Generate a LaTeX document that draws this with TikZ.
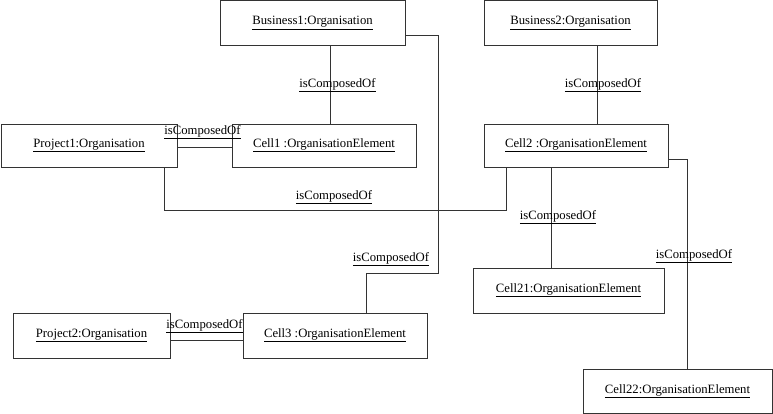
\documentclass[tikz,border=0pt]{standalone}
\usepackage{fontspec}
\setmainfont{Liberation Serif}
\begin{document}
\begin{tikzpicture}[x=1pt,y=-1pt,
  objbox/.style={draw=black!80,line width=0.8pt,rectangle,inner sep=0pt,
    font=\fontsize{12.7}{14}\selectfont},
  link/.style={draw=black!80,line width=0.8pt},
  rolelabel/.style={inner sep=0pt,font=\fontsize{12.7}{14}\selectfont}]
\useasboundingbox (0,0) rectangle (773,414);
\newcommand{\ul}[1]{\underline{#1}}

% objects
\node[objbox,minimum width=185pt,minimum height=44.5pt] (B1) at (312.5,22.8) {\ul{Business1:Organisation}};
\node[objbox,minimum width=173pt,minimum height=44.5pt] (B2) at (570.5,22.8) {\ul{Business2:Organisation}};
\node[objbox,minimum width=176pt,minimum height=43pt] (P1) at (89,145.5) {\ul{Project1:Organisation}};
\node[objbox,minimum width=184pt,minimum height=43pt] (C1) at (324,145.5) {\ul{Cell1 :OrganisationElement}};
\node[objbox,minimum width=184pt,minimum height=43pt] (C2) at (576,145.5) {\ul{Cell2 :OrganisationElement}};
\node[objbox,minimum width=191pt,minimum height=45pt] (C21) at (568.5,290.5) {\ul{Cell21:OrganisationElement}};
\node[objbox,minimum width=157pt,minimum height=45pt] (P2) at (91.5,335.5) {\ul{Project2:Organisation}};
\node[objbox,minimum width=184pt,minimum height=45pt] (C3) at (335,335.5) {\ul{Cell3 :OrganisationElement}};
\node[objbox,minimum width=189pt,minimum height=44pt] (C22) at (677.5,391.2) {\ul{Cell22:OrganisationElement}};

% composition links
\draw[link] (B1.south -| 330,0) -- (C1.north -| 330,0);
\draw[link] (P1.east |- 0,147) -- (C1.west |- 0,147);
\draw[link] (P1.south -| 164,0) |- (506,210) -- (C2.south -| 506,0);
\draw[link] (B1.east |- 0,35) -| (438,273) -| (C3.north -| 366,0);
\draw[link] (P2.east |- 0,340) -- (C3.west |- 0,340);
\draw[link] (B2.south -| 597,0) -- (C2.north -| 597,0);
\draw[link] (C2.south -| 551,0) -- (C21.north -| 551,0);
\draw[link] (C2.east |- 0,159) -| (C22.north -| 687,0);

% role names
\node[rolelabel] (L1) at (337.5,85) {\ul{isComposedOf}};
\node[rolelabel] (L2) at (202.5,132) {\ul{isComposedOf}};
\node[rolelabel] (L3) at (334,197) {\ul{isComposedOf}};
\node[rolelabel] (L4) at (391,259) {\ul{isComposedOf}};
\node[rolelabel] (L5) at (204.5,326) {\ul{isComposedOf}};
\node[rolelabel] (L6) at (603,85) {\ul{isComposedOf}};
\node[rolelabel] (L7) at (558,217) {\ul{isComposedOf}};
\node[rolelabel] (L8) at (694,256) {\ul{isComposedOf}};
\end{tikzpicture}
\end{document}
